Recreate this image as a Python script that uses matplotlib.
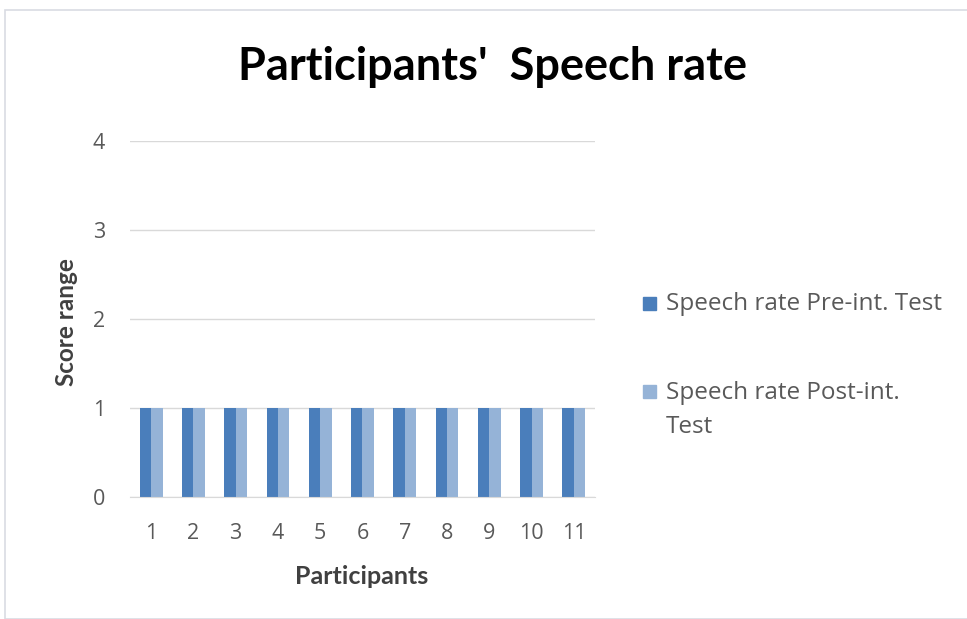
import numpy as np
import matplotlib.pyplot as plt
from matplotlib.patches import Rectangle

plt.rcParams["font.family"] = ["Open Sans", "DejaVu Sans"]

# data
participants = [str(i) for i in range(1, 12)]
pre_test = [1, 1, 1, 1, 1, 1, 1, 1, 1, 1, 1]
post_test = [1, 1, 1, 1, 1, 1, 1, 1, 1, 1, 1]
series_names = ["Speech rate Pre-int. Test", "Speech rate Post-int.\nTest"]
colors = ["#4a7ebb", "#95b3d7"]

fig = plt.figure(figsize=(9.67, 6.19), dpi=100)
W, H = 967, 619

# outer chart frame
fig.patches.append(Rectangle((5 / W, 0), 1, 1 - 10 / H, transform=fig.transFigure,
                             fill=False, edgecolor="#d9dce3", linewidth=1.2))

ax = fig.add_axes([130 / W, 1 - 497 / H, 465 / W, (497 - 141) / H])

x = np.arange(len(participants))
width = 0.27
ax.bar(x - width / 2, pre_test, width=width, color=colors[0], label=series_names[0])
ax.bar(x + width / 2, post_test, width=width, color=colors[1], label=series_names[1])

ax.set_xlim(-0.5, len(participants) - 0.5)
ax.set_ylim(0, 4)
ax.set_yticks([0, 1, 2, 3, 4])
ax.set_xticks(x, participants)
ax.yaxis.grid(True, color="#d9d9d9", linewidth=1)
ax.set_axisbelow(True)
for s in ["top", "right", "left"]:
    ax.spines[s].set_visible(False)
ax.spines["bottom"].set_color("#d9d9d9")
ax.tick_params(axis="both", length=0, labelsize=15.5, colors="#595959")
ax.tick_params(axis="x", pad=19)
ax.tick_params(axis="y", pad=18)

fig.text(492 / W, 1 - 67 / H, "Participants'  Speech rate", ha="center", va="center",
         fontsize=32.5, fontweight="bold", color="#000000", family=["Lato", "DejaVu Sans"])
fig.text(67 / W, 1 - 322 / H, "Score range", rotation=90, ha="center", va="center",
         fontsize=17.5, fontweight="bold", color="#404040", family=["Lato", "DejaVu Sans"])
fig.text(362 / W, 1 - 576 / H, "Participants", ha="center", va="center",
         fontsize=18, fontweight="bold", color="#404040", family=["Lato", "DejaVu Sans"])

# legend drawn by hand for the wrapped label layout (first-line baselines in px)
leg_base = [310, 398]
line_px = 35
for name, c, yy in zip(series_names, colors, leg_base):
    fig.patches.append(Rectangle((643 / W, 1 - yy / H), 13 / W, 13 / H,
                                 transform=fig.transFigure, color=c))
    # va="baseline" anchors the last line, so shift by the extra lines
    last = yy + line_px * name.count("\n")
    fig.text(666 / W, 1 - last / H, name, ha="left", va="baseline",
             fontsize=17.5, color="#595959", linespacing=1.58)

fig.savefig("out.png", dpi=100)
